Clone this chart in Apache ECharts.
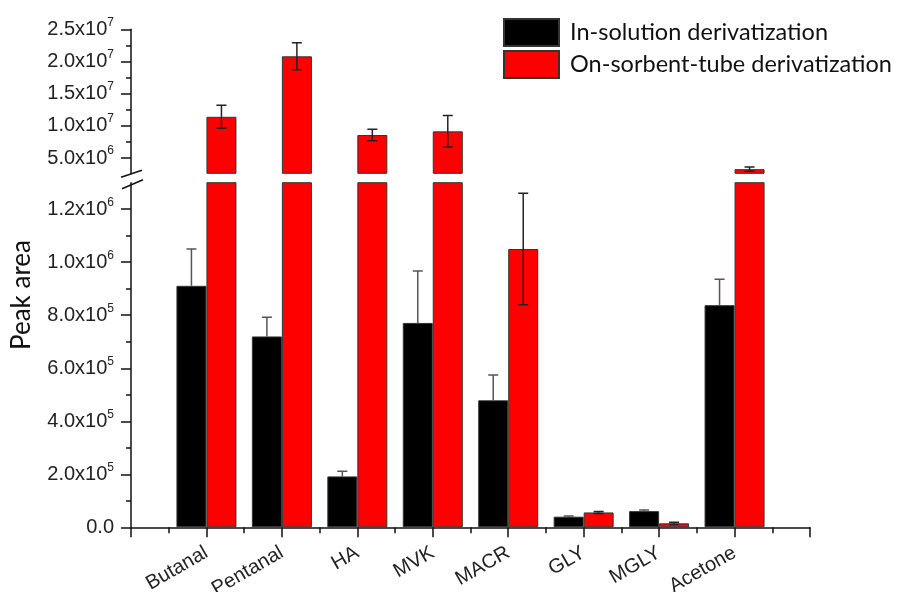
<!DOCTYPE html>
<html>
<head>
<meta charset="utf-8">
<script src="https://cdn.jsdelivr.net/npm/echarts@6/dist/echarts.min.js"></script>
<style>
html,body{margin:0;padding:0;background:#fff;}
#main{width:898px;height:592px;}
</style>
</head>
<body>
<div id="main"></div>
<script>
// ---- data ----
var categories = ['Butanal', 'Pentanal', 'HA', 'MVK', 'MACR', 'GLY', 'MGLY', 'Acetone'];
var seriesNames = ['In-solution derivatization', 'On-sorbent-tube derivatization'];
var inSolution = [911000, 720000, 192000, 771000, 479000, 40000, 61000, 838000];
var inSolutionErr = [139000, 72000, 19000, 196000, 96000, 3000, 4000, 98000];
var onSorbent = [11400000, 20800000, 8570000, 9140000, 1050000, 56000, 15000, 3260000];
var onSorbentErr = [1780000, 2100000, 880000, 2450000, 210000, 4000, 4000, 330000];
var upperTicks = [5e6, 1e7, 1.5e7, 2e7, 2.5e7];
var upperMinorTicks = [7.5e6, 1.25e7, 1.75e7, 2.25e7];
var lowerTicks = [0, 2e5, 4e5, 6e5, 8e5, 1e6, 1.2e6];
var lowerMinorTicks = [1e5, 3e5, 5e5, 7e5, 9e5, 1.1e6];
var upperRange = [2.62e6, 2.5e7];
var lowerRange = [0, 1.3e6];

// ---- styling constants ----
var BAR_W = 30;
var AXIS_COLOR = '#111';
var LABEL_FONT = '"Liberation Sans", Arial, sans-serif';
var TEXT_FONT = 'Lato, "Open Sans", sans-serif';

function sciLabel(v) {
  if (v === 0) return '{b|0.0}';
  var e = Math.floor(Math.log10(v) + 1e-9);
  var m = v / Math.pow(10, e);
  return '{b|' + m.toFixed(1) + 'x10}{s|' + e + '}';
}
var richStyle = {
  b: {fontSize: 20, fontFamily: LABEL_FONT, color: '#222', lineHeight: 26},
  s: {fontSize: 12, fontFamily: LABEL_FONT, color: '#222', lineHeight: 12, verticalAlign: 'top'}
};

function pairs(vals) { return vals.map(function (v, i) { return [i + 1, v]; }); }
function errPairs(vals, errs, side) { return vals.map(function (v, i) { return [i + 1, v, errs[i], side]; }); }

function errRender(params, api) {
  var x = api.value(0), y = api.value(1), e = api.value(2), side = api.value(3);
  var off = side * BAR_W / 2;
  var top = api.coord([x, y + e]);
  var mid = api.coord([x, y]);
  var bot = api.coord([x, Math.max(y - e, 0)]);
  var cx = top[0] + off;
  var cap = 5;
  var color = side < 0 ? '#555' : '#222';
  var children = [
    {type: 'line', shape: {x1: cx, y1: top[1], x2: cx, y2: mid[1]}, style: {stroke: color, lineWidth: 1.5}},
    {type: 'line', shape: {x1: cx - cap, y1: top[1], x2: cx + cap, y2: top[1]}, style: {stroke: color, lineWidth: 1.5}}
  ];
  if (side > 0) {
    children.push({type: 'line', shape: {x1: cx, y1: mid[1], x2: cx, y2: bot[1]}, style: {stroke: color, lineWidth: 1.5}});
    children.push({type: 'line', shape: {x1: cx - cap, y1: bot[1], x2: cx + cap, y2: bot[1]}, style: {stroke: color, lineWidth: 1.5}});
  }
  return {type: 'group', children: children};
}

var chart = echarts.init(document.getElementById('main'), null, {renderer: 'canvas'});

function xAxisDef(gridIndex, show) {
  return {
    type: 'value', gridIndex: gridIndex, min: 0, max: categories.length + 1, interval: 1,
    show: show,
    axisLine: {show: true, lineStyle: {color: AXIS_COLOR, width: 1.5}},
    axisTick: {show: true, length: 10, lineStyle: {color: AXIS_COLOR, width: 1.5}},
    minorTick: {show: true, splitNumber: 2, length: 6, lineStyle: {color: AXIS_COLOR, width: 1.5}},
    splitLine: {show: false}, minorSplitLine: {show: false},
    axisLabel: {
      show: true, rotate: 30, margin: 24, interval: 0,
      fontSize: 20, fontFamily: LABEL_FONT, color: '#222',
      formatter: function (v) { return categories[Math.round(v) - 1] || ''; }
    }
  };
}
function yAxisMajor(gridIndex, range, ticks) {
  return {
    type: 'value', gridIndex: gridIndex, min: range[0], max: range[1],
    axisLine: {show: true, lineStyle: {color: AXIS_COLOR, width: 1.5}},
    axisTick: {show: true, length: 10, customValues: ticks, lineStyle: {color: AXIS_COLOR, width: 1.5}},
    splitLine: {show: false},
    axisLabel: {show: true, margin: 17, customValues: ticks, formatter: sciLabel, rich: richStyle, showMinLabel: true, showMaxLabel: true}
  };
}
function yAxisMinor(gridIndex, range, ticks) {
  return {
    type: 'value', gridIndex: gridIndex, min: range[0], max: range[1], position: 'left',
    axisLine: {show: false},
    axisTick: {show: true, length: 5, customValues: ticks, lineStyle: {color: AXIS_COLOR, width: 1.5}},
    splitLine: {show: false},
    axisLabel: {show: false}
  };
}

var barStyleBlack = {color: '#000', borderColor: '#333', borderWidth: 1};
var barStyleRed = {color: '#ff0000', borderColor: '#333', borderWidth: 1};

var option = {
  animation: false,
  backgroundColor: '#fff',
  grid: [
    {left: 131, right: 88, top: 29.3, height: 144, containLabel: false, outerBoundsMode: 'none'},
    {left: 131, right: 88, top: 182.7, height: 344.6, containLabel: false, outerBoundsMode: 'none'}
  ],
  xAxis: [xAxisDef(0, false), xAxisDef(1, true)],
  yAxis: [
    yAxisMajor(0, upperRange, upperTicks),
    yAxisMajor(1, lowerRange, lowerTicks),
    yAxisMinor(0, upperRange, upperMinorTicks),
    yAxisMinor(1, lowerRange, lowerMinorTicks)
  ],
  legend: {
    left: 498, top: 13, orient: 'vertical', itemWidth: 55, itemHeight: 27, itemGap: 3,
    icon: 'rect', data: seriesNames,
    textStyle: {fontSize: 23.5, fontFamily: TEXT_FONT, color: '#111', padding: [0, 0, 0, 6]},
    selectedMode: false
  },
  graphic: [],
  series: [
    {name: seriesNames[0], type: 'bar', xAxisIndex: 0, yAxisIndex: 0, data: pairs(inSolution), barWidth: BAR_W, barGap: '0%', itemStyle: barStyleBlack, clip: true},
    {name: seriesNames[1], type: 'bar', xAxisIndex: 0, yAxisIndex: 0, data: pairs(onSorbent), barWidth: BAR_W, barGap: '0%', itemStyle: barStyleRed, clip: true},
    {name: seriesNames[0], type: 'bar', xAxisIndex: 1, yAxisIndex: 1, data: pairs(inSolution), barWidth: BAR_W, barGap: '0%', itemStyle: barStyleBlack, clip: true},
    {name: seriesNames[1], type: 'bar', xAxisIndex: 1, yAxisIndex: 1, data: pairs(onSorbent), barWidth: BAR_W, barGap: '0%', itemStyle: barStyleRed, clip: true},
    {name: 'errA0', type: 'custom', xAxisIndex: 0, yAxisIndex: 0, data: errPairs(inSolution, inSolutionErr, -1), renderItem: errRender, clip: true, z: 5},
    {name: 'errB0', type: 'custom', xAxisIndex: 0, yAxisIndex: 0, data: errPairs(onSorbent, onSorbentErr, 1), renderItem: errRender, clip: true, z: 5},
    {name: 'errA1', type: 'custom', xAxisIndex: 1, yAxisIndex: 1, data: errPairs(inSolution, inSolutionErr, -1), renderItem: errRender, clip: true, z: 5},
    {name: 'errB1', type: 'custom', xAxisIndex: 1, yAxisIndex: 1, data: errPairs(onSorbent, onSorbentErr, 1), renderItem: errRender, clip: true, z: 5}
  ]
};
chart.setOption(option);

// axis-break marks and y-axis title
var pUp = chart.convertToPixel({xAxisIndex: 0, yAxisIndex: 0}, [0, upperRange[0]]);
var pLo = chart.convertToPixel({xAxisIndex: 1, yAxisIndex: 1}, [0, lowerRange[1]]);
var bx = pUp[0];
chart.setOption({
  graphic: [
    {type: 'line', shape: {x1: bx - 10, y1: pUp[1] + 4, x2: bx + 11, y2: pUp[1] - 3}, style: {stroke: AXIS_COLOR, lineWidth: 1.5}, z: 10},
    {type: 'line', shape: {x1: bx - 9, y1: pLo[1] + 6, x2: bx + 12, y2: pLo[1] - 3}, style: {stroke: AXIS_COLOR, lineWidth: 1.5}, z: 10},
    {type: 'text', x: 22, y: 295, rotation: Math.PI / 2,
      style: {text: 'Peak area', fontSize: 26, fontFamily: TEXT_FONT, fill: '#111', align: 'center', verticalAlign: 'middle'}}
  ]
});
</script>
</body>
</html>
